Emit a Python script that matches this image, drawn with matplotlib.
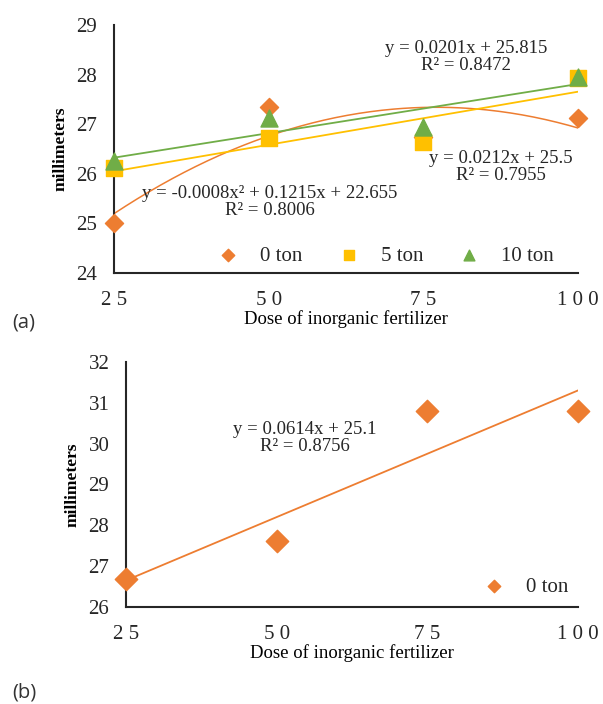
import numpy as np
import matplotlib.pyplot as plt

plt.rcParams['font.family'] = ['Liberation Serif', 'DejaVu Serif']
plt.rcParams['text.color'] = '#262626'

dose = [25, 50, 75, 100]
dose_labels = ['2 5', '5 0', '7 5', '1 0 0']

# panel (a)
a_0ton = [25.0, 27.35, 26.75, 27.12]
a_5ton = [26.12, 26.72, 26.64, 27.93]
a_10ton = [26.25, 27.12, 26.94, 27.96]
a_eqs = ['y = -0.0008x² + 0.1215x + 22.655\nR² = 0.8006',
         'y = 0.0212x + 25.5\nR² = 0.7955',
         'y = 0.0201x + 25.815\nR² = 0.8472']
# panel (b)
b_0ton = [26.69, 27.62, 30.8, 30.8]
b_eq = 'y = 0.0614x + 25.1\nR² = 0.8756'

orange = '#ED7D31'
yellow = '#FFC000'
green = '#70AD47'

fig = plt.figure(figsize=(6.03, 7.04), dpi=100)

def style(ax, ylo, yhi):
    ax.set_xlim(25, 100)
    ax.set_ylim(ylo, yhi)
    ax.set_xticks(dose)
    ax.set_xticklabels(dose_labels)
    ax.set_yticks(range(ylo, yhi + 1))
    for s in ['top', 'right']:
        ax.spines[s].set_visible(False)
    for s in ['left', 'bottom']:
        ax.spines[s].set_linewidth(1.5)
        ax.spines[s].set_color('#262626')
    ax.tick_params(length=0, labelsize=15, labelcolor='#262626')
    ax.tick_params(axis='x', pad=13)
    ax.tick_params(axis='y', pad=12)
    ax.set_xlabel('Dose of inorganic fertilizer', fontsize=13.5, labelpad=0)
    ax.set_ylabel('millimeters', fontsize=12.5, fontweight='bold', labelpad=6)

xs = np.linspace(25, 100, 200)

# ---- (a)
ax1 = fig.add_axes([0.189, 0.6122, 0.7695, 0.3523])
style(ax1, 24, 29)
ax1.plot(xs, np.polyval(np.polyfit(dose, a_0ton, 2), xs), color=orange, lw=1.1)
ax1.plot(xs, np.polyval(np.polyfit(dose, a_5ton, 1), xs), color=yellow, lw=1.3)
ax1.plot(xs, np.polyval(np.polyfit(dose, a_10ton, 1), xs), color=green, lw=1.3)
ax1.scatter(dose, a_0ton, marker='D', s=85, color=orange, clip_on=False, zorder=3, label='0 ton')
ax1.scatter(dose, a_5ton, marker='s', s=125, color=yellow, clip_on=False, zorder=4, label='5 ton')
ax1.scatter(dose, a_10ton, marker='^', s=150, color=green, clip_on=False, zorder=5, label='10 ton')
ax1.text(50.2, 25.43, a_eqs[0], ha='center', va='center', fontsize=13.5, linespacing=1.0)
ax1.text(87.5, 26.14, a_eqs[1], ha='center', va='center', fontsize=13.5, linespacing=1.0)
ax1.text(81.9, 28.36, a_eqs[2], ha='center', va='center', fontsize=13.5, linespacing=1.0)
leg = ax1.legend(loc='center left', bbox_to_anchor=(0.183, 0.0685), ncol=3, frameon=False, fontsize=15,
                 borderaxespad=0, handletextpad=0.55, columnspacing=1.2)
for h, sz in zip(leg.legend_handles, [40, 55, 60]):
    h.set_sizes([sz])
fig.text(0.02, 0.5426, '(a)', fontsize=14.5, family='Open Sans', color='#333333', va='center')

# ---- (b)
ax2 = fig.add_axes([0.209, 0.1378, 0.7496, 0.348])
style(ax2, 26, 32)
ax2.plot(xs, np.polyval(np.polyfit(dose, b_0ton, 1), xs), color=orange, lw=1.3)
ax2.scatter(dose, b_0ton, marker='D', s=130, color=orange, clip_on=False, zorder=3, label='0 ton')
ax2.text(54.7, 30.15, b_eq, ha='center', va='center', fontsize=13.5, linespacing=1.0)
leg2 = ax2.legend(loc='center left', bbox_to_anchor=(0.75, 0.0816), frameon=False, fontsize=15,
                  borderaxespad=0, handletextpad=0.55)
leg2.legend_handles[0].set_sizes([40])
fig.text(0.02, 0.017, '(b)', fontsize=14.5, family='Open Sans', color='#333333', va='center')

fig.savefig('out.png', dpi=100)
